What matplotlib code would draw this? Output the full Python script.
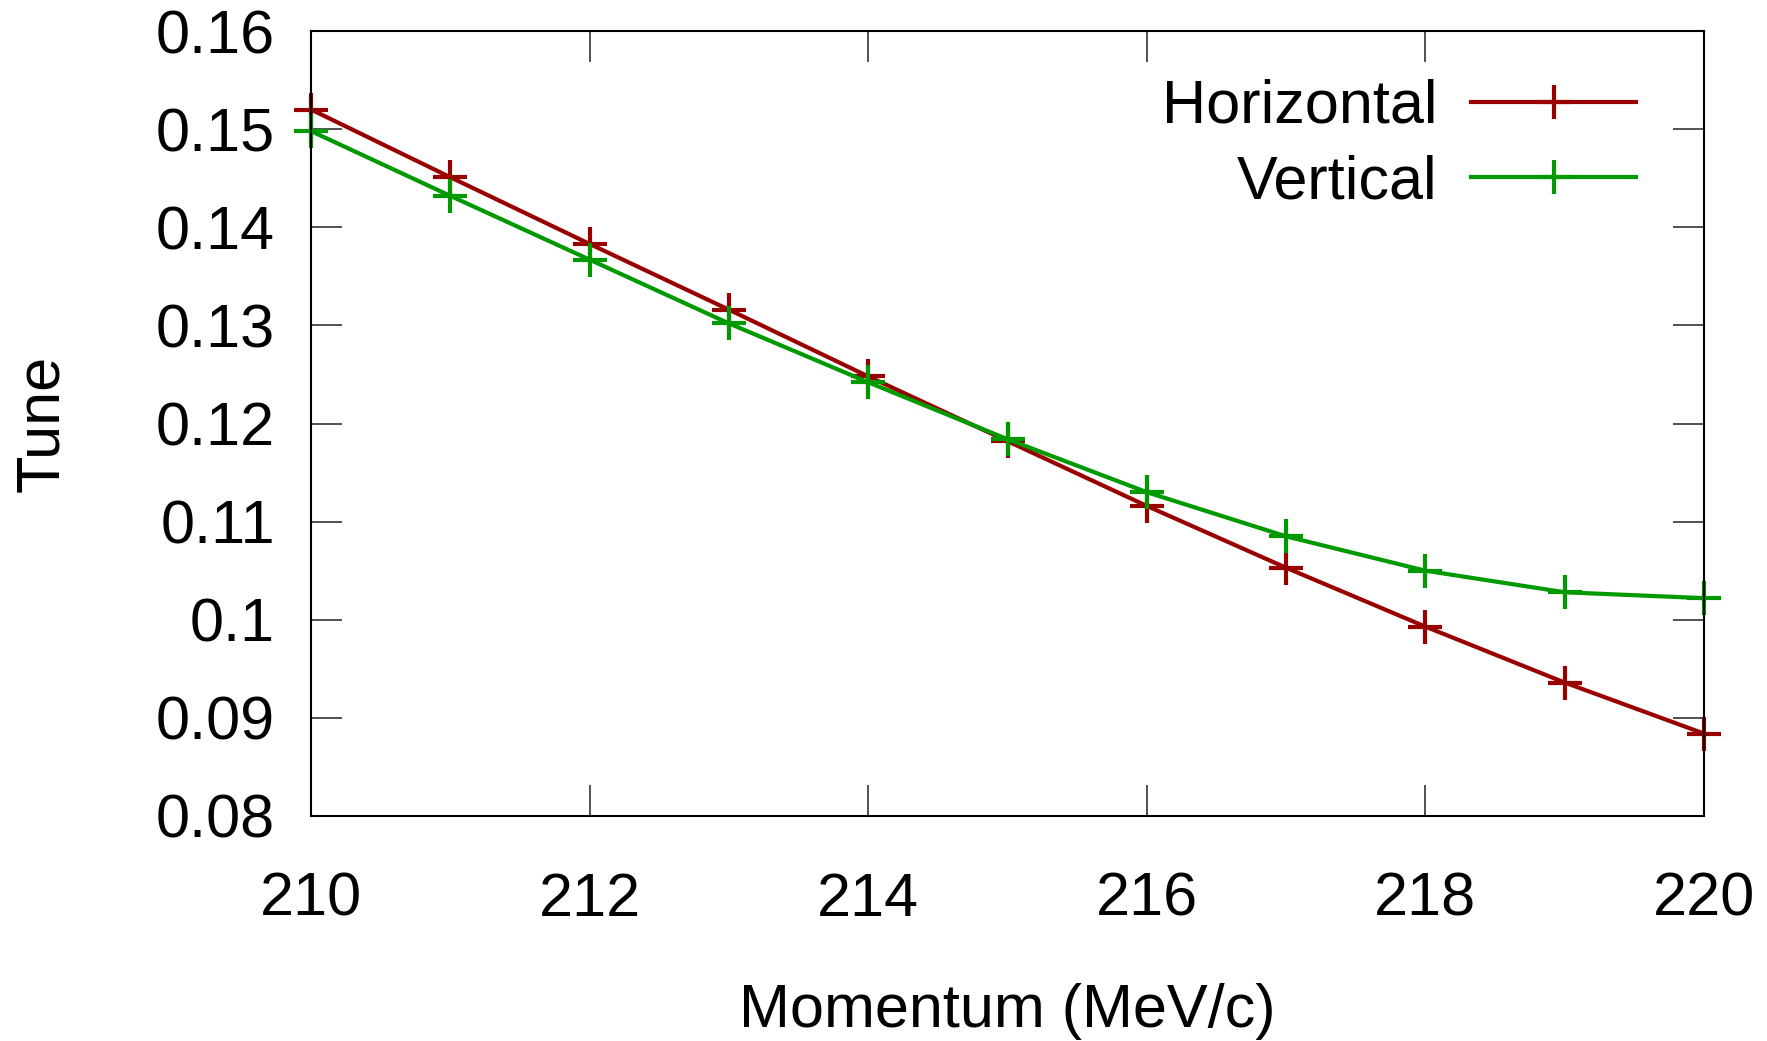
import matplotlib
matplotlib.use("Agg")
import matplotlib.pyplot as plt

momentum = [210, 211, 212, 213, 214, 215, 216, 217, 218, 219, 220]
horizontal = [0.1520, 0.1451, 0.1383, 0.1316, 0.1248, 0.1182, 0.1116, 0.1053, 0.0993, 0.0936, 0.0884]
vertical = [0.1498, 0.1432, 0.1367, 0.1302, 0.1242, 0.1184, 0.1130, 0.1085, 0.1050, 0.1028, 0.1022]
xticks = [210, 212, 214, 216, 218, 220]
yticks = [0.08, 0.09, 0.10, 0.11, 0.12, 0.13, 0.14, 0.15, 0.16]
yticklabels = ["0.08", "0.09", "0.1", "0.11", "0.12", "0.13", "0.14", "0.15", "0.16"]

plt.rcParams['font.family'] = ['Liberation Sans', 'DejaVu Sans']

fig = plt.figure(figsize=(17.67, 10.41), dpi=100)
ax = fig.add_axes([311/1767, 1-816/1041, (1704-311)/1767, (816-31)/1041])

red = '#990000'
green = '#009900'
ax.plot(momentum, horizontal, color=red, lw=3, marker='+', ms=24, mew=3, label='Horizontal', clip_on=False)
ax.plot(momentum, vertical, color=green, lw=3, marker='+', ms=24, mew=3, label='Vertical', clip_on=False)

ax.set_xlim(210, 220)
ax.set_ylim(0.08, 0.16)
ax.set_xticks(xticks)
ax.set_xticklabels([str(t) for t in xticks])
ax.set_yticks(yticks)
ax.set_yticklabels(yticklabels)
ax.tick_params(axis='both', which='major', direction='in', length=22, width=1.2,
               labelsize=44, top=True, right=True, color='#333333')
ax.tick_params(axis='x', pad=40)
ax.tick_params(axis='y', pad=26)
for s in ax.spines.values():
    s.set_linewidth(1.5)

ax.set_ylabel('Tune', fontsize=44)
ax.yaxis.set_label_coords(-0.172, 0.5)
ax.set_xlabel('Momentum (MeV/c)', fontsize=44)
ax.xaxis.set_label_coords(0.5, -0.213)

leg = ax.legend(loc='upper right', bbox_to_anchor=(0.991, 1.009), frameon=False, fontsize=44,
                markerfirst=False, handlelength=2.7, handletextpad=0.55, labelspacing=0.3)

fig.savefig('out.png', dpi=100)
